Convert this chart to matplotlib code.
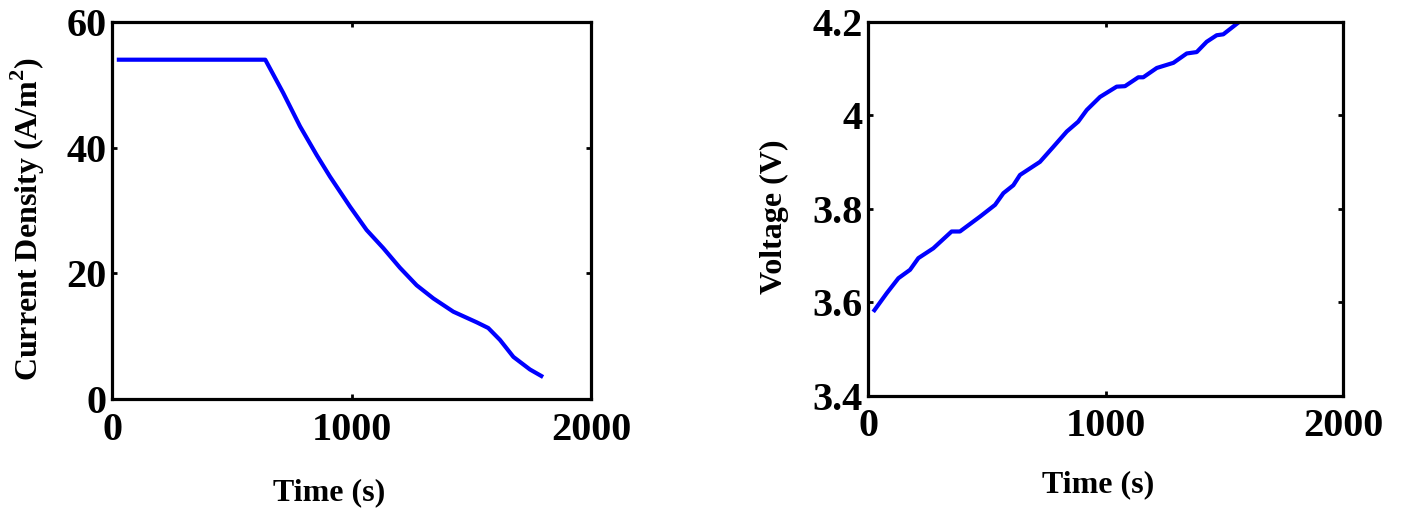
import matplotlib
matplotlib.use("Agg")
import matplotlib.pyplot as plt

# Current density during the charge step
cd_time = [20, 640, 715, 785, 855, 910, 994, 1063, 1133, 1202, 1272,
           1342, 1425, 1523, 1571, 1620, 1676, 1745, 1800]
cd_vals = [54, 54, 48.7, 43.4, 38.8, 35.4, 30.6, 26.9, 24.0, 20.9, 18.1,
           16.0, 13.9, 12.2, 11.3, 9.4, 6.7, 4.7, 3.5]

# Cell voltage during the same step
v_time = [22, 79, 128, 177, 212, 275, 352, 387, 472, 535, 570, 612, 640,
          724, 780, 837, 885, 921, 977, 1047, 1082, 1138, 1159, 1216, 1286,
          1342, 1384, 1426, 1468, 1496, 1559, 1575]
v_vals = [3.579, 3.619, 3.651, 3.669, 3.694, 3.715, 3.751, 3.751, 3.783,
          3.808, 3.833, 3.850, 3.872, 3.900, 3.932, 3.965, 3.986, 4.011,
          4.039, 4.061, 4.062, 4.081, 4.081, 4.101, 4.112, 4.132, 4.135,
          4.157, 4.171, 4.173, 4.198, 4.205]

x_ticks = [0, 1000, 2000]
cd_ticks = [0, 20, 40, 60]
v_ticks = [3.4, 3.6, 3.8, 4.0, 4.2]
v_ticklabels = ["3.4", "3.6", "3.8", "4", "4.2"]

plt.rcParams["font.family"] = ["Liberation Serif", "DejaVu Serif"]
plt.rcParams["font.weight"] = "bold"
plt.rcParams["mathtext.fontset"] = "custom"
plt.rcParams["mathtext.rm"] = "Liberation Serif:bold"
plt.rcParams["mathtext.bf"] = "Liberation Serif:bold"

W, H = 1405, 515
fig = plt.figure(figsize=(W / 100, H / 100), dpi=100)


def px_axes(x0, x1, y0, y1):
    return fig.add_axes([x0 / W, 1 - y1 / H, (x1 - x0) / W, (y1 - y0) / H])


ax1 = px_axes(112, 591, 22, 399)
ax2 = px_axes(868, 1343, 21.7, 395.5)

line_kw = dict(color="#0000ff", lw=3.0, solid_capstyle="butt",
               solid_joinstyle="round")
ax1.plot(cd_time, cd_vals, **line_kw)
ax2.plot(v_time, v_vals, **line_kw)

ax1.set_xlim(0, 2000)
ax1.set_ylim(0, 60)
ax1.set_xticks(x_ticks)
ax1.set_yticks(cd_ticks)

ax2.set_xlim(0, 2000)
ax2.set_ylim(3.4, 4.2)
ax2.set_xticks(x_ticks)
ax2.set_yticks(v_ticks)
ax2.set_yticklabels(v_ticklabels)

for ax in (ax1, ax2):
    for s in ax.spines.values():
        s.set_linewidth(2.3)
    ax.tick_params(direction="in", length=3.5, width=2.0, top=True,
                   right=True, labelsize=29)
    ax.tick_params(axis="x", pad=9)
    ax.tick_params(axis="y", pad=4)
    for lab in ax.get_xticklabels() + ax.get_yticklabels():
        lab.set_fontweight("bold")

ax1.set_xlabel("Time (s)", fontsize=23, fontweight="bold", va="center")
ax1.xaxis.set_label_coords(0.453, -0.249)
ax1.set_ylabel(r"Current Density (A/m$^{2}$)", fontsize=23,
               fontweight="bold", va="center")
ax1.yaxis.set_label_coords(-0.175, 0.477)

ax2.set_xlabel("Time (s)", fontsize=23, fontweight="bold", va="center")
ax2.xaxis.set_label_coords(0.4855, -0.239)
ax2.set_ylabel("Voltage (V)", fontsize=23, fontweight="bold", va="center")
ax2.yaxis.set_label_coords(-0.196, 0.4775)

fig.savefig("out.png", dpi=100)
